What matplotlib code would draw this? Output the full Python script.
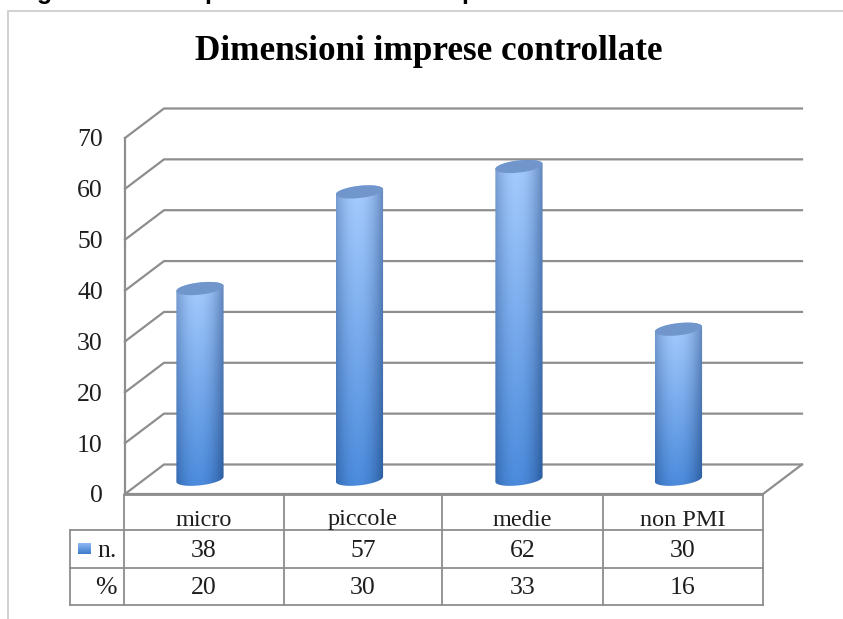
import numpy as np
import matplotlib
matplotlib.use('Agg')
import matplotlib.pyplot as plt
from matplotlib.patches import PathPatch, Polygon
from matplotlib.path import Path
from matplotlib.colors import to_rgb

# dati del grafico
titolo = 'Dimensioni imprese controllate'
categorie = ['micro', 'piccole', 'medie', 'non PMI']
valori_n = [38, 57, 62, 30]
valori_perc = [20, 30, 33, 16]
tick_y = [0, 10, 20, 30, 40, 50, 60, 70]

W, H = 843, 619
GRIGIO = '#8E8E8E'
TESTO = '#1E1E1E'
FONT = 'Liberation Serif'


def cilindro(cx, top, a, b, k, base):
    # contorno del cilindro: arco inferiore e poi arco superiore
    t1 = np.linspace(np.pi, 2 * np.pi, 40)
    t2 = np.linspace(0, np.pi, 40)
    x = np.r_[cx + a * np.cos(t1), cx + a * np.cos(t2)]
    y = np.r_[base + b * np.sin(t1) + k * np.cos(t1), top + b * np.sin(t2) + k * np.cos(t2)]
    return np.c_[x, y]


def gradiente(n=120, m=60):
    alto_c, alto_b = np.array(to_rgb('#A8CDFE')), np.array(to_rgb('#6488BE'))
    basso_c, basso_b = np.array(to_rgb('#4A8ADC')), np.array(to_rgb('#295A9C'))
    v = np.linspace(0, 1, n)[:, None, None]
    u = np.linspace(0, 1, m)
    # luce leggermente spostata a sinistra del centro
    s = np.clip(np.abs(u - 0.45) / 0.55, 0, 1)[None, :, None] ** 2
    alto = alto_c * (1 - s) + alto_b * s
    basso = basso_c * (1 - s) + basso_b * s
    return alto * (1 - v) + basso * v


fig = plt.figure(figsize=(W / 100, H / 100), dpi=100, facecolor='white')

# asse "pagina" in pixel per cornice, titolo e tabella
pg = fig.add_axes([0, 0, 1, 1])
pg.set_xlim(0, W)
pg.set_ylim(H, 0)
pg.axis('off')

# asse dei dati: fronte del grafico 3D
x0, x1, y0, y70 = 125, 763, 494, 138
ax = fig.add_axes([x0 / W, (H - y0) / H, (x1 - x0) / W, (y0 - y70) / H])
ax.patch.set_alpha(0)
ax.set_xlim(0, len(categorie))
ax.set_ylim(0, 70)
for s in ax.spines.values():
    s.set_visible(False)
ax.set_xticks([])
ax.set_yticks(tick_y)
ax.set_yticklabels([str(t) for t in tick_y], family=FONT, fontsize=18.5, color=TESTO, va='center_baseline')
ax.tick_params(axis='y', length=0, pad=16)

# profondita' in unita' dei dati
dx = 39 / ((x1 - x0) / len(categorie))
dy = 29.5 / ((y0 - y70) / 70)
nc = len(categorie)

for t in tick_y:
    ax.plot([0, dx, nc + dx], [t, t + dy, t + dy], color=GRIGIO, lw=1.6, clip_on=False, zorder=1,
            solid_joinstyle='miter')
ax.plot([0, 0], [0, 70], color=GRIGIO, lw=1.6, clip_on=False, zorder=1)
ax.plot([0, nc, nc + dx], [0, 0, dy], color=GRIGIO, lw=1.6, clip_on=False, zorder=1,
        solid_joinstyle='miter')

# cilindri
a, b, k = 0.148, 1.2, 0.5
fondo, scarto = 2.9, 2.4
img = gradiente()
for i, v in enumerate(valori_n):
    cx = i + 0.47
    top = v + scarto
    pts = cilindro(cx, top, a, b, k, fondo)
    im = ax.imshow(img, extent=[cx - a, cx + a, fondo - 2, top + 2], aspect='auto', zorder=3,
                   interpolation='bilinear', clip_on=True)
    clip = PathPatch(Path(pts), transform=ax.transData, facecolor='none', edgecolor='none')
    ax.add_patch(clip)
    im.set_clip_path(clip)
    t = np.linspace(0, 2 * np.pi, 80)
    ax.add_patch(Polygon(np.c_[cx + a * np.cos(t), top + b * np.sin(t) + k * np.cos(t)],
                         closed=True, facecolor='#7096CC', edgecolor='none', zorder=4, clip_on=False))
ax.set_xlim(0, nc)
ax.set_ylim(0, 70)

# cornice dell'immagine
pg.plot([8, 8, W], [H, 11, 11], color='#C9C9C9', lw=1.2, solid_joinstyle='miter')

# resti della didascalia tagliata in alto
for xt, ch in [(45, 'g'), (212, 'p'), (469, 'p')]:
    pg.text(xt, -1, ch, family='Liberation Sans', weight='bold', fontsize=18, ha='center',
            va='baseline', color='black', clip_on=False)

pg.text(429, 60.5, titolo, family=FONT, weight='bold', fontsize=25.3, ha='center', va='baseline',
        color='black')

# tabella dei dati
col_x = [124, 284, 442, 603, 763]
riga_y = [495, 530, 567.5, 605]
pg.plot([col_x[0], col_x[-1]], [riga_y[0]] * 2, color=GRIGIO, lw=1.3)
for yy in riga_y[1:]:
    pg.plot([70, col_x[-1]], [yy, yy], color=GRIGIO, lw=1.3)
for xx in col_x:
    pg.plot([xx, xx], [riga_y[0], riga_y[-1]], color=GRIGIO, lw=1.3)
pg.plot([70, 70], [riga_y[1], riga_y[-1]], color=GRIGIO, lw=1.3)

for i in range(nc):
    xc = (col_x[i] + col_x[i + 1]) / 2
    pg.text(xc, 525.5, categorie[i], family=FONT, fontsize=17.5, ha='center', va='baseline', color=TESTO)
    pg.text(xc, 557, str(valori_n[i]), family=FONT, fontsize=18.5, ha='center', va='baseline', color=TESTO)
    pg.text(xc, 594.5, str(valori_perc[i]), family=FONT, fontsize=18.5, ha='center', va='baseline', color=TESTO)

pg.text(97, 557, 'n.', family=FONT, fontsize=18.5, ha='left', va='baseline', color=TESTO)
pg.text(117, 594.5, '%', family=FONT, fontsize=18.5, ha='right', va='baseline', color=TESTO)

# quadratino della legenda
c1, c2 = np.array(to_rgb('#8DB8F2')), np.array(to_rgb('#3F7CCB'))
chiave = (c1 * (1 - np.linspace(0, 1, 12)[:, None]) + c2 * np.linspace(0, 1, 12)[:, None])[:, None, :]
pg.imshow(chiave, extent=[78, 91, 554, 543], aspect='auto', interpolation='bilinear')
pg.set_xlim(0, W)
pg.set_ylim(H, 0)

fig.savefig('out.png', dpi=100)
